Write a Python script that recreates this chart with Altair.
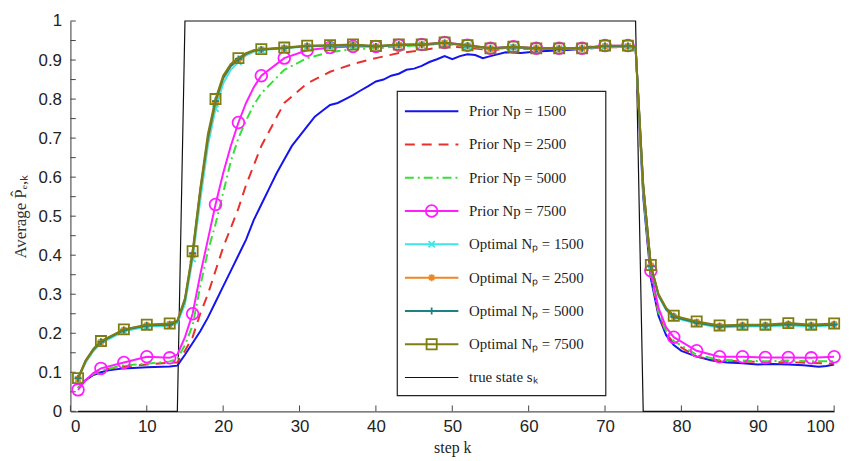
import altair as alt
import pandas as pd

# ---------------- data ----------------
K_OPT = [1, 2, 3, 4, 7, 10, 13,
         14, 15, 16, 17, 18, 19, 20, 21, 22, 23, 24, 25,
         28, 31, 34, 37, 40, 43, 46, 49, 52, 55, 58, 61, 64, 67, 70, 73,
         74, 75, 76, 77, 78, 79,
         82, 85, 88, 91, 94, 97, 100]

OPT7500 = [0.085, 0.13, 0.16, 0.18, 0.21, 0.222, 0.225,
           0.232, 0.29, 0.41, 0.57, 0.71, 0.80, 0.86, 0.89, 0.905, 0.918, 0.925, 0.928,
           0.932, 0.937, 0.938, 0.94, 0.936, 0.94, 0.94, 0.945, 0.938, 0.93, 0.934, 0.93, 0.93, 0.93, 0.937, 0.937,
           0.935, 0.58, 0.375, 0.30, 0.265, 0.245,
           0.23, 0.22, 0.222, 0.222, 0.226, 0.222, 0.225]
OPT5000 = [0.085, 0.13, 0.158, 0.178, 0.208, 0.22, 0.222,
           0.23, 0.285, 0.405, 0.565, 0.70, 0.795, 0.855, 0.885, 0.903, 0.916, 0.924, 0.927,
           0.931, 0.936, 0.937, 0.938, 0.935, 0.939, 0.939, 0.944, 0.937, 0.93, 0.933, 0.93, 0.929, 0.93, 0.936, 0.936,
           0.934, 0.58, 0.372, 0.298, 0.262, 0.242,
           0.227, 0.217, 0.22, 0.22, 0.223, 0.22, 0.222]
OPT2500 = [0.083, 0.128, 0.157, 0.178, 0.209, 0.221, 0.224,
           0.231, 0.285, 0.40, 0.56, 0.695, 0.79, 0.852, 0.884, 0.90, 0.915, 0.923, 0.927,
           0.931, 0.936, 0.937, 0.939, 0.935, 0.939, 0.94, 0.944, 0.937, 0.929, 0.933, 0.93, 0.93, 0.93, 0.936, 0.936,
           0.934, 0.58, 0.374, 0.30, 0.264, 0.244,
           0.229, 0.219, 0.221, 0.221, 0.224, 0.221, 0.224]
OPT1500 = [0.082, 0.125, 0.154, 0.175, 0.205, 0.217, 0.219,
           0.226, 0.275, 0.39, 0.54, 0.68, 0.775, 0.84, 0.875, 0.895, 0.912, 0.921, 0.926,
           0.93, 0.935, 0.936, 0.938, 0.934, 0.938, 0.939, 0.943, 0.936, 0.929, 0.932, 0.929, 0.929, 0.929, 0.935, 0.935,
           0.933, 0.57, 0.37, 0.296, 0.26, 0.24,
           0.225, 0.215, 0.217, 0.218, 0.22, 0.218, 0.22]
PRIOR7500 = [0.055, 0.08, 0.098, 0.11, 0.125, 0.14, 0.137,
             0.145, 0.19, 0.25, 0.35, 0.44, 0.53, 0.61, 0.68, 0.74, 0.79, 0.83, 0.86,
             0.905, 0.925, 0.932, 0.935, 0.935, 0.938, 0.94, 0.945, 0.938, 0.93, 0.934, 0.93, 0.93, 0.93, 0.937, 0.937,
             0.935, 0.57, 0.36, 0.265, 0.215, 0.19,
             0.155, 0.14, 0.14, 0.138, 0.138, 0.137, 0.14]
PRIOR5000 = [0.06, 0.08, 0.095, 0.105, 0.118, 0.122, 0.128,
             0.135, 0.17, 0.22, 0.32, 0.41, 0.48, 0.56, 0.64, 0.70, 0.745, 0.785, 0.815,
             0.875, 0.905, 0.92, 0.928, 0.93, 0.935, 0.938, 0.942, 0.935, 0.928, 0.932, 0.93, 0.928, 0.93, 0.935, 0.935,
             0.933, 0.56, 0.35, 0.255, 0.205, 0.18,
             0.145, 0.132, 0.13, 0.128, 0.13, 0.128, 0.128]
PRIOR2500 = [0.06, 0.08, 0.095, 0.105, 0.115, 0.12, 0.125,
             0.125, 0.155, 0.19, 0.25, 0.30, 0.36, 0.42, 0.47, 0.52, 0.58, 0.63, 0.68,
             0.79, 0.84, 0.87, 0.89, 0.905, 0.918, 0.925, 0.935, 0.932, 0.925, 0.93, 0.928, 0.928, 0.928, 0.933, 0.933,
             0.932, 0.56, 0.35, 0.25, 0.20, 0.175,
             0.14, 0.13, 0.128, 0.126, 0.126, 0.124, 0.122]

K_BLUE = [1, 2, 3, 4, 5, 7, 10, 13,
          14, 15, 16, 17, 18, 19, 20, 21, 22, 23, 24, 25, 26, 27, 28, 29, 30, 31,
          32, 33, 34, 35, 36, 37, 38, 39, 40, 41, 42, 43, 44, 45, 46, 47, 48, 49, 50, 51, 52, 53, 54, 55,
          57, 59, 61, 63, 65, 67, 68, 70, 72, 74,
          75, 76, 77, 78, 79, 80, 82, 84, 86, 88, 90, 92, 94, 96, 98, 99, 100]
PRIOR1500 = [0.06, 0.08, 0.093, 0.10, 0.105, 0.11, 0.113, 0.115,
             0.117, 0.145, 0.175, 0.205, 0.24, 0.28, 0.32, 0.36, 0.40, 0.44, 0.49, 0.53, 0.57, 0.61, 0.645, 0.68, 0.705, 0.73,
             0.755, 0.77, 0.785, 0.79, 0.80, 0.81, 0.822, 0.833, 0.845, 0.85, 0.86, 0.865, 0.875, 0.878, 0.885, 0.895,
             0.902, 0.91, 0.902, 0.91, 0.915, 0.913, 0.905, 0.91,
             0.92, 0.918, 0.922, 0.924, 0.926, 0.928, 0.934, 0.933, 0.935, 0.933,
             0.55, 0.34, 0.245, 0.195, 0.17, 0.155, 0.14, 0.13, 0.125, 0.123, 0.12, 0.121, 0.12, 0.118, 0.114, 0.116, 0.12]

K_TRUE = [1, 14, 15, 74, 75, 100]
TRUE_STATE = [0, 0, 1, 1, 0, 0]

X_TICKS = list(range(0, 101, 10))
Y_TICKS = [i / 20 for i in range(0, 21)]
Y_LABELS = [i / 10 for i in range(0, 11)]

LABELS = ["Prior Np = 1500", "Prior Np = 2500", "Prior Np = 5000", "Prior Np = 7500",
          "Optimal Nₚ = 1500", "Optimal Nₚ = 2500", "Optimal Nₚ = 5000", "Optimal Nₚ = 7500",
          "true state sₖ"]

for a in (OPT7500, OPT5000, OPT2500, OPT1500, PRIOR7500, PRIOR5000, PRIOR2500):
    assert len(a) == len(K_OPT)
assert len(PRIOR1500) == len(K_BLUE)

# ---------------- styles ----------------
X_PATH = "M-1,-1L1,1M-1,1L1,-1"
PLUS_PATH = "M-1,0L1,0M0,-1L0,1"
STAR_PATH = "M-1,0L1,0M0,-1L0,1M-0.7,-0.7L0.7,0.7M-0.7,0.7L0.7,-0.7"

SERIES = [
    # label, k, values, color, dash, marker shape, marker size
    (LABELS[0], K_BLUE, PRIOR1500, "#1414f0", None, None, 0),
    (LABELS[1], K_OPT, PRIOR2500, "#e8312c", [10, 7], None, 0),
    (LABELS[2], K_OPT, PRIOR5000, "#36e036", [9, 4, 2, 4], None, 0),
    (LABELS[3], K_OPT, PRIOR7500, "#ff1eff", None, "circle", 140),
    (LABELS[4], K_OPT, OPT1500, "#3ee6e6", None, X_PATH, 40),
    (LABELS[5], K_OPT, OPT2500, "#f0861e", None, STAR_PATH, 50),
    (LABELS[6], K_OPT, OPT5000, "#1e8282", None, PLUS_PATH, 50),
    (LABELS[7], K_OPT, OPT7500, "#7d7d12", None, "square", 105),
]

xs = alt.Scale(domain=[0, 100], nice=False, zero=False)
ys = alt.Scale(domain=[0, 1], nice=False)
x_axis = alt.Axis(values=X_TICKS, ticks=False, grid=False, labelFont="Liberation Sans",
                  labelFontSize=17, labelColor="#222", labelPadding=7, domainColor="#555",
                  domainWidth=1.2, title="step k", titleFont="Liberation Serif",
                  titleFontSize=16, titleFontWeight="normal", titleColor="#222", titlePadding=6)
y_axis = alt.Axis(values=Y_LABELS, format="~g", ticks=False, grid=False, labelFont="Liberation Sans",
                  labelFontSize=17, labelColor="#222", labelPadding=9, domainColor="#555",
                  domainWidth=1.2, title="Average P̂ₑ,ₖ", titleFont="Liberation Serif",
                  titleFontSize=17, titleFontWeight="normal", titleColor="#333", titlePadding=9)


def X(field="k"):
    return alt.X(f"{field}:Q", scale=xs, axis=x_axis)


def Y(field="v"):
    return alt.Y(f"{field}:Q", scale=ys, axis=y_axis)


layers = []

# true state
df_true = pd.DataFrame({"k": K_TRUE, "v": TRUE_STATE})
layers.append(alt.Chart(df_true).mark_line(color="#111", strokeWidth=1.2).encode(x=X(), y=Y()))

# axis ticks (inward)
df_xt = pd.DataFrame({"k": X_TICKS, "v": [0] * len(X_TICKS), "v2": [0.015] * len(X_TICKS)})
layers.append(alt.Chart(df_xt).mark_rule(color="#444", strokeWidth=1).encode(
    x=X(), y=Y(), y2="v2:Q"))
df_yt = pd.DataFrame({"k": [0] * len(Y_TICKS), "k2": [0.7] * len(Y_TICKS), "v": Y_TICKS})
layers.append(alt.Chart(df_yt).mark_rule(color="#444", strokeWidth=1).encode(
    x=X(), x2="k2:Q", y=Y()))

# curves and markers
for label, ks, vals, color, dash, shape, size in SERIES:
    df = pd.DataFrame({"k": ks, "v": vals})
    kw = dict(color=color, strokeWidth=2)
    if dash:
        kw["strokeDash"] = dash
    layers.append(alt.Chart(df).mark_line(**kw).encode(x=X(), y=Y()))
    if shape:
        dm = df[df["k"] % 3 == 1]
        layers.append(alt.Chart(dm).mark_point(shape=shape, size=size, filled=False, color=color,
                                               strokeWidth=1.8, opacity=1).encode(x=X(), y=Y()))

# legend (layout in data units)
LEG_K0, LEG_K1 = 42.8, 70.1
LEG_V0, LEG_V1 = 0.04, 0.82
ROW0, ROW_STEP = 0.769, 0.0853
SAMPLE_K0, SAMPLE_K1, MARK_K, TEXT_K = 43.8, 50.8, 47.3, 52.2

df_box = pd.DataFrame({"k": [LEG_K0], "k2": [LEG_K1], "v": [LEG_V0], "v2": [LEG_V1]})
layers.append(alt.Chart(df_box).mark_rect(fill="white", stroke="#222", strokeWidth=1.2).encode(
    x=X(), x2="k2:Q", y=Y(), y2="v2:Q"))

styles = [(s[3], s[4], s[5], s[6], 2) for s in SERIES] + [("#111", None, None, 0, 1.2)]
for i, (lab, (color, dash, shape, size, sw)) in enumerate(zip(LABELS, styles)):
    yv = ROW0 - i * ROW_STEP
    dl = pd.DataFrame({"k": [SAMPLE_K0], "k2": [SAMPLE_K1], "v": [yv]})
    kw = dict(color=color, strokeWidth=sw)
    if dash:
        kw["strokeDash"] = dash
    layers.append(alt.Chart(dl).mark_rule(**kw).encode(x=X(), x2="k2:Q", y=Y()))
    if shape:
        dp = pd.DataFrame({"k": [MARK_K], "v": [yv]})
        layers.append(alt.Chart(dp).mark_point(shape=shape, size=size, filled=False, color=color,
                                               strokeWidth=1.8, opacity=1).encode(x=X(), y=Y()))
    dt = pd.DataFrame({"k": [TEXT_K], "v": [yv], "t": [lab]})
    layers.append(alt.Chart(dt).mark_text(align="left", baseline="middle", font="Liberation Serif",
                                          fontSize=15, color="#222").encode(x=X(), y=Y(), text="t:N"))

chart = alt.layer(*layers).properties(
    width=771, height=394,
    autosize=alt.AutoSizeParams(type="none"),
    padding={"left": 63, "top": 11, "right": 15, "bottom": 48},
    background="white",
).configure_view(stroke=None)

chart.save("out.html", embed_options={"renderer": "svg", "actions": False})
